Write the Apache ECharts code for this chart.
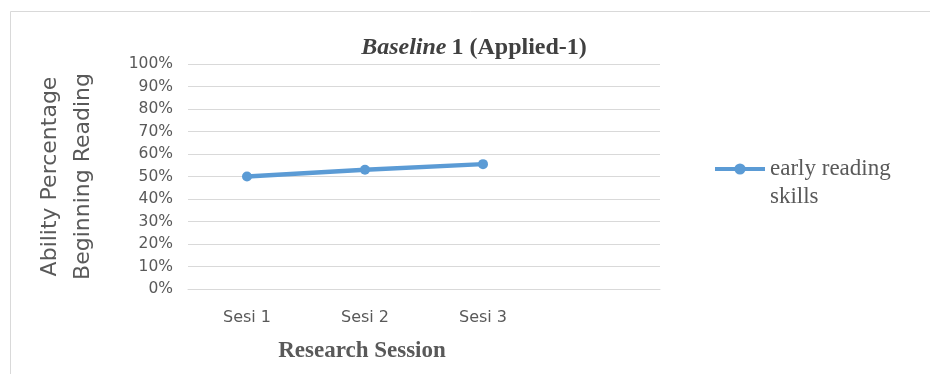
<!DOCTYPE html>
<html>
<head>
<meta charset="utf-8">
<script src="https://cdn.jsdelivr.net/npm/echarts@6/dist/echarts.min.js"></script>
<style>
  html, body { margin: 0; padding: 0; background: #fff; }
  #chart { width: 930px; height: 374px; }
</style>
</head>
<body>
<div id="chart"></div>
<script>
// sessions (4th slot is empty in the original)
const sessions = ['Sesi 1', 'Sesi 2', 'Sesi 3', ''];
const readingSkills = [50, 53, 55.5];
const yTicks = [0, 10, 20, 30, 40, 50, 60, 70, 80, 90, 100];

const grey = '#595959';
const serif = '"Liberation Serif", "Times New Roman", serif';
const sans = '"DejaVu Sans", "Open Sans", sans-serif';

let chart = echarts.init(document.getElementById('chart'));

chart.setOption({
  backgroundColor: '#fff',
  animation: false,
  title: {
    text: '{i|Baseline} {b|1 (Applied-1)}',
    left: 469,
    top: 31,
    textAlign: 'center',
    textStyle: {
      rich: {
        i: { fontFamily: serif, fontSize: 24, fontStyle: 'italic', fontWeight: 'bold', color: '#404040' },
        b: { fontFamily: serif, fontSize: 24, fontWeight: 'bold', color: '#404040' }
      }
    }
  },
  graphic: [{
    type: 'rect',
    shape: { x: 10.5, y: 11.5, width: 940, height: 400 },
    style: { fill: 'none', stroke: '#d9d9d9', lineWidth: 1 },
    silent: true
  }],
  legend: {
    left: 713,
    top: 127,
    padding: 0,
    itemWidth: 50,
    itemHeight: 14,
    itemGap: 0,
    lineStyle: { width: 4 },
    formatter: () => ' \nearly reading\nskills',
    textStyle: {
      fontFamily: serif,
      fontSize: 23,
      color: grey,
      lineHeight: 28
    }
  },
  grid: {
    left: 188,
    right: 270,
    top: 64,
    bottom: 85
  },
  xAxis: {
    type: 'category',
    data: sessions,
    boundaryGap: true,
    name: 'Research Session',
    nameLocation: 'middle',
    nameGap: 51,
    nameTextStyle: {
      fontFamily: serif,
      fontSize: 23,
      fontWeight: 'bold',
      color: grey,
      padding: [0, 124, 0, 0]
    },
    axisLine: { lineStyle: { color: '#d9d9d9', width: 1 } },
    axisTick: { show: false },
    axisLabel: { fontFamily: sans, fontSize: 16, color: grey, margin: 21 }
  },
  yAxis: {
    type: 'value',
    min: 0,
    max: 100,
    interval: 10,
    name: 'Ability Percentage\nBeginning Reading',
    nameLocation: 'middle',
    nameGap: 88,
    nameTextStyle: {
      fontFamily: sans,
      fontSize: 22,
      color: grey,
      lineHeight: 33
    },
    axisLine: { show: false },
    axisTick: { show: false },
    splitLine: { lineStyle: { color: '#d9d9d9', width: 1 } },
    axisLabel: {
      fontFamily: sans,
      fontSize: 15.5,
      color: grey,
      margin: 15,
      formatter: v => yTicks.includes(v) ? v + '%' : ''
    }
  },
  series: [{
    name: 'early reading skills',
    type: 'line',
    data: readingSkills,
    symbol: 'circle',
    symbolSize: 10,
    color: '#5b9bd5',
    lineStyle: { width: 4.5, color: '#5b9bd5' },
    itemStyle: { color: '#5b9bd5' }
  }]
});
</script>
</body>
</html>
